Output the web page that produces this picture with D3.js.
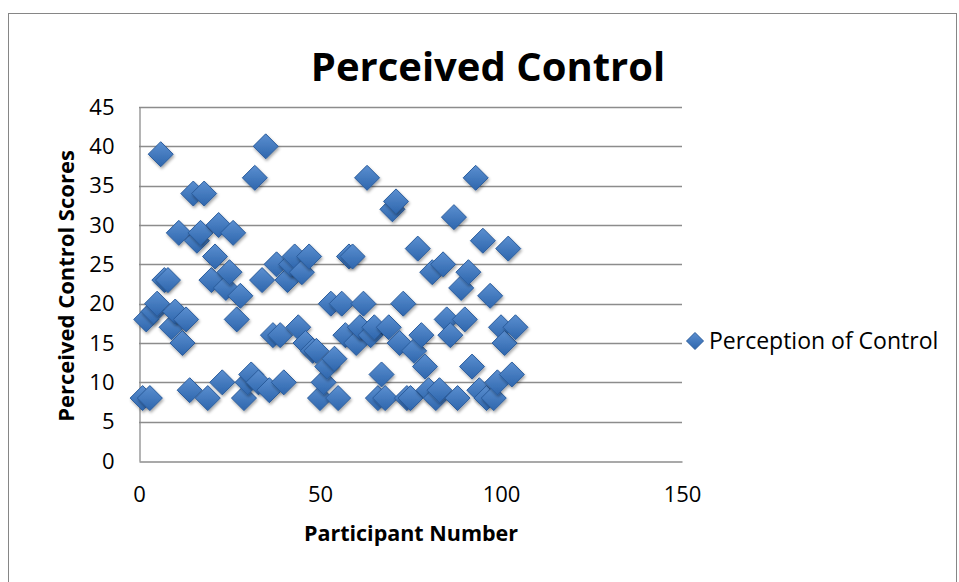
<!DOCTYPE html>
<html><head><meta charset="utf-8">
<script src="https://cdn.jsdelivr.net/npm/d3@7/dist/d3.min.js"></script>
<style>body{margin:0;background:#fff;} text{font-family:"Open Sans","Noto Sans",sans-serif;}</style>
</head><body><svg id="c" width="959" height="582"></svg>
<script>
const participants = [1,2,3,4,5,6,7,8,9,10,11,12,13,14,15,16,17,18,19,20,21,22,23,24,25,26,27,28,29,30,31,32,33,34,35,36,37,38,39,40,41,42,43,44,45,46,47,48,49,50,51,52,53,54,55,56,57,58,59,60,61,62,63,64,65,66,67,68,69,70,71,72,73,74,75,76,77,78,79,80,81,82,83,84,85,86,87,88,89,90,91,92,93,94,95,96,97,98,99,100,101,102,103,104];
const scores = [8,18,8,19,20,39,23,23,17,19,29,15,18,9,34,28,29,34,8,23,26,30,10,22,24,29,18,21,8,10,11,36,10,23,40,9,16,25,16,10,23,25,26,17,24,15,26,14,14,8,10,12,20,13,8,20,16,26,26,15,17,20,36,16,17,8,11,8,17,32,33,15,20,8,8,14,27,16,12,9,24,8,9,25,18,16,31,8,22,18,24,12,36,9,28,8,21,8,10,17,15,27,11,17];
const xTicks = [0,50,100,150];
const yTicks = [0,5,10,15,20,25,30,35,40,45];
const seriesName = "Perception of Control";
const title = "Perceived Control";
const xTitle = "Participant Number";
const yTitle = "Perceived Control Scores";

const svg = d3.select("#c");
const defs = svg.append("defs");
const g1 = defs.append("linearGradient").attr("id","dg").attr("x1","0").attr("y1","0").attr("x2","0").attr("y2","1");
g1.append("stop").attr("offset","0").attr("stop-color","#5b8fd0");
g1.append("stop").attr("offset","1").attr("stop-color","#2e66ad");
const f = defs.append("filter").attr("id","sh").attr("x","-50%").attr("y","-50%").attr("width","200%").attr("height","200%");
f.append("feDropShadow").attr("dx",1).attr("dy",2).attr("stdDeviation",1.5).attr("flood-color","#000").attr("flood-opacity",0.35);

// outer border
svg.append("rect").attr("x",8.5).attr("y",13.5).attr("width",948).attr("height",600)
  .attr("fill","none").attr("stroke","#868686").attr("stroke-width",1);

const x = d3.scaleLinear().domain([0,150]).range([139,682]);
const y = d3.scaleLinear().domain([0,45]).range([461,107]);

// gridlines
svg.append("g").selectAll("line").data(yTicks.filter(d=>d>0)).join("line")
  .attr("x1",x(0)).attr("x2",x(150)).attr("y1",d=>Math.round(y(d))+0.5).attr("y2",d=>Math.round(y(d))+0.5)
  .attr("stroke","#8c8c8c").attr("stroke-width",1.3);

// axes
const yAxis = svg.append("g").attr("transform",`translate(${x(0)+0.5},0)`)
  .call(d3.axisLeft(y).tickValues(yTicks).tickSize(0).tickPadding(25));
yAxis.select(".domain").attr("stroke","#8c8c8c").attr("stroke-width",1.3);
yAxis.selectAll("text").attr("font-size",22).attr("fill","#000").attr("font-family","'Open Sans',sans-serif");
const xAxis = svg.append("g").attr("transform",`translate(0,${Math.round(y(0))+0.5})`)
  .call(d3.axisBottom(x).tickValues(xTicks).tickSize(0).tickPadding(25));
xAxis.select(".domain").attr("stroke","#8c8c8c").attr("stroke-width",1.3);
xAxis.selectAll("text").attr("font-size",22).attr("fill","#000").attr("font-family","'Open Sans',sans-serif");

// points
const diamond = (cx,cy,r)=>`M${cx},${cy-r}L${cx+r},${cy}L${cx},${cy+r}L${cx-r},${cy}Z`;
svg.append("g").selectAll("path").data(participants.map((p,i)=>[p,scores[i]])).join("path")
  .attr("d",d=>diamond(x(d[0]),y(d[1]),12.5))
  .attr("fill","url(#dg)").attr("stroke","#2a5c9c").attr("stroke-width",1)
  .attr("filter","url(#sh)");

// title
svg.append("text").attr("x",488).attr("y",81).attr("text-anchor","middle")
  .attr("font-size",40).attr("font-weight","bold").text(title);
svg.append("text").attr("x",411).attr("y",541).attr("text-anchor","middle")
  .attr("font-size",21.5).attr("font-weight","bold").text(xTitle);
svg.append("text").attr("transform","translate(74,286) rotate(-90)").attr("text-anchor","middle")
  .attr("font-size",22).attr("font-weight","bold").text(yTitle);

// legend
svg.append("path").attr("d",diamond(695,341,8.5)).attr("fill","url(#dg)").attr("stroke","#2a5c9c");
svg.append("text").attr("x",709).attr("y",349).attr("font-size",23).text(seriesName);
</script></body></html>
